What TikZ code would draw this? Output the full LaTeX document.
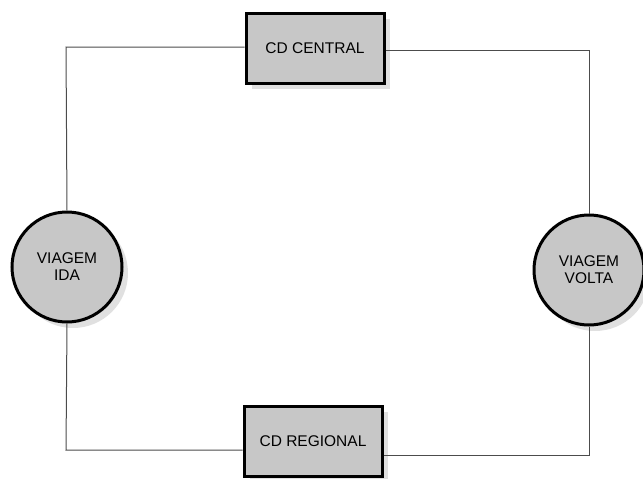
\documentclass[tikz,border=0pt]{standalone}
\usepackage{fontspec}
\setmainfont{Liberation Sans}
\usetikzlibrary{shadows}
\begin{document}
\begin{tikzpicture}[x=1pt,y=-1pt,
  base/.style={draw=black,line width=3pt,fill=black!22,font=\fontsize{15.5}{17}\selectfont,align=center,
    drop shadow={shadow xshift=6pt,shadow yshift=-6pt,fill=black!12,opacity=1}},
  cdbox/.style={base,rectangle,minimum width=138pt,minimum height=70pt,inner sep=0pt},
  trip/.style={base,circle,minimum size=110pt,inner sep=0pt},
  link/.style={draw=black!70,line width=1pt}]
\useasboundingbox (0,0) rectangle (643,479);
\node[cdbox] (central) at (315,48) {CD CENTRAL};
\node[cdbox] (regional) at (313,441) {CD REGIONAL};
\node[trip] (ida) at (67,267) {VIAGEM\\IDA};
\node[trip] (volta) at (589,270) {VIAGEM\\VOLTA};
\coordinate (tl) at (66,47);
\coordinate (tr) at (589,50);
\coordinate (bl) at (66,450);
\coordinate (br) at (589,455);
\draw[link] (central.west |- tl) -- (tl) -- (ida.north);
\draw[link] (central.east |- tr) -- (tr) -- (volta.north);
\draw[link] (ida.south) -- (bl) -- (regional.west |- bl);
\draw[link] (regional.east |- br) -- (br) -- (volta.south);
\end{tikzpicture}
\end{document}
